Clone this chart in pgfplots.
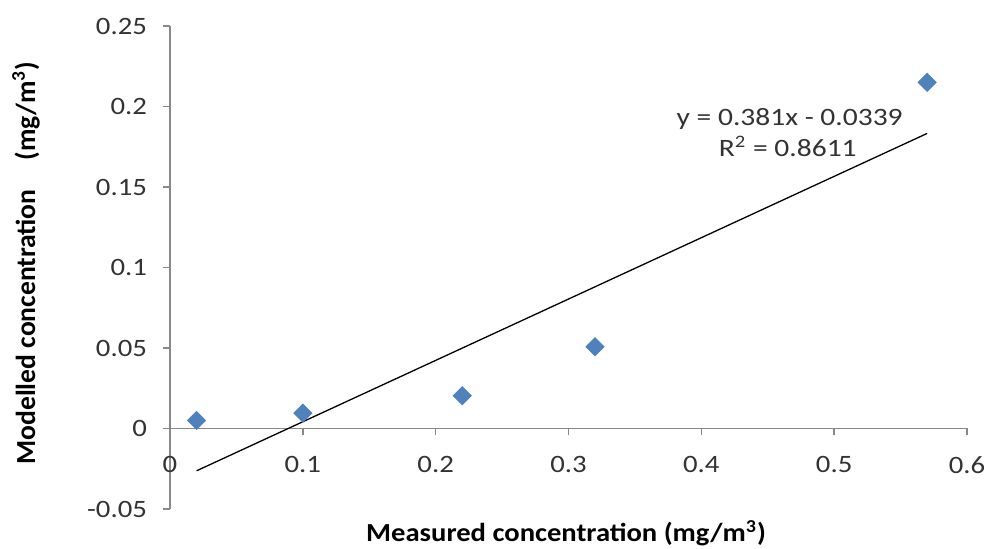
\documentclass[border=0pt]{standalone}
\usepackage{fontspec}
\setmainfont{Carlito}
\newfontfamily\tickfont[FakeStretch=1.15]{Carlito}
\newfontfamily\eqfont[FakeStretch=1.18]{Carlito}
\newfontfamily\xlabfont[FakeStretch=1.1]{Carlito}
\usepackage{pgfplots}
\pgfplotsset{compat=1.18}
\definecolor{excelblue}{HTML}{4F81BD}
\definecolor{axisgray}{HTML}{888888}
\definecolor{ticktext}{HTML}{333333}
\begin{document}
\begin{tikzpicture}
\begin{axis}[
  scale only axis,
  width=398.5pt, height=241.5pt,
  xmin=0, xmax=0.6, ymin=-0.05, ymax=0.25,
  axis x line=middle, axis y line=left,
  axis line style={-, axisgray, line width=0.7pt},
  tick align=outside,
  major tick length=3.5pt,
  tick style={axisgray, line width=0.7pt},
  hide obscured x ticks=false, hide obscured y ticks=false,
  xtick={0,0.1,0.2,0.3,0.4,0.5,0.6},
  xticklabels={0,0.1,0.2,0.3,0.4,0.5,0.6},
  ytick={-0.05,0,0.05,0.1,0.15,0.2,0.25},
  yticklabels={-0.05,0,0.05,0.1,0.15,0.2,0.25},
  ticklabel style={font=\tickfont\fontsize{12.5}{14}\selectfont, text=ticktext},
  xticklabel style={yshift=-7pt},
  yticklabel style={xshift=-4.5pt},
  xlabel={\textbf{Measured concentration (mg/m\textsuperscript{3})}},
  ylabel={\textbf{Modelled concentration\hspace{14.5pt}(mg/m\textsuperscript{3})}},
  xlabel style={at={(axis description cs:0.497,-0.0663)}, anchor=base, font=\xlabfont\fontsize{13}{15}\selectfont},
  ylabel style={at={(axis description cs:-0.1807,0.509)}, anchor=center, font=\fontsize{13.8}{15}\selectfont},
  clip=false,
]
\addplot[black, line width=0.65pt] coordinates {(0.02,-0.02628) (0.57,0.18327)};
\addplot[only marks, mark=square*, mark size=3.2pt, mark options={rotate=45, draw=excelblue, fill=excelblue}] coordinates {
(0.02,0.005) (0.10,0.0095) (0.22,0.0204) (0.32,0.0508) (0.57,0.2150)};
\node[font=\eqfont\fontsize{12.5}{14}\selectfont, text=ticktext, anchor=base] at (axis cs:0.4665,0.1884) {y = 0.381x - 0.0339};
\node[font=\eqfont\fontsize{12.5}{14}\selectfont, text=ticktext, anchor=base] at (axis cs:0.4651,0.1691) {R\textsuperscript{2} = 0.8611};
\end{axis}
\pgfresetboundingbox
\path ([shift={(-85pt,-20pt)}]current axis.south west) rectangle ([shift={(12.5pt,13pt)}]current axis.north east);
\end{tikzpicture}
\end{document}
